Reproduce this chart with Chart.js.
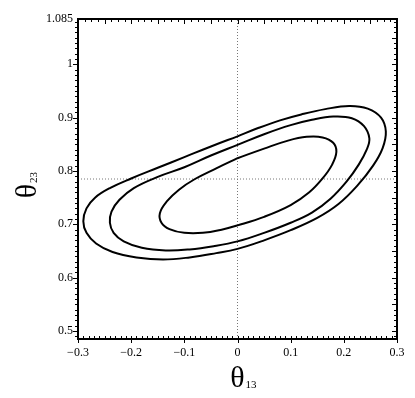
<!DOCTYPE html>
<html>
<head>
<meta charset="utf-8">
<script src="https://cdn.jsdelivr.net/npm/chart.js@4/dist/chart.umd.min.js"></script>
<style>
  body { margin: 0; background: #fff; }
  #wrap { width: 415px; height: 398px; }
</style>
</head>
<body>
<div id="wrap"><canvas id="c" width="415" height="398"></canvas></div>
<script>
// axis ranges and tick labels
const xRange = [-0.3, 0.3];
const yRange = [0.485, 1.085];
const xTickValues = [-0.3, -0.2, -0.1, 0, 0.1, 0.2, 0.3];
const xTickLabels = ['\u22120.3', '\u22120.2', '\u22120.1', '0', '0.1', '0.2', '0.3'];
const yTickValues = [0.5, 0.6, 0.7, 0.8, 0.9, 1, 1.085];
const yTickLabels = ['0.5', '0.6', '0.7', '0.8', '0.9', '1', '1.085'];

// reference point (dotted cross)
const refX = 0;
const refY = 0.785;

// contours as [theta13, theta23]
const contourOuter = [
  [0.000, 0.865], [-0.050, 0.846], [-0.100, 0.826], [-0.150, 0.806], [-0.200, 0.786],
  [-0.240, 0.768], [-0.268, 0.750], [-0.284, 0.730], [-0.290, 0.706], [-0.284, 0.684],
  [-0.266, 0.664], [-0.235, 0.648], [-0.190, 0.638], [-0.140, 0.634], [-0.090, 0.638],
  [-0.040, 0.646], [0.000, 0.654], [0.050, 0.670], [0.100, 0.689], [0.150, 0.712],
  [0.190, 0.738], [0.225, 0.772], [0.255, 0.810], [0.273, 0.843], [0.279, 0.874],
  [0.270, 0.900], [0.245, 0.917], [0.210, 0.922], [0.165, 0.916], [0.120, 0.906],
  [0.080, 0.895], [0.040, 0.881], [0.000, 0.865]
];
const contourMiddle = [
  [0.000, 0.849], [-0.050, 0.829], [-0.100, 0.807], [-0.150, 0.789], [-0.195, 0.768],
  [-0.222, 0.746], [-0.237, 0.724], [-0.240, 0.703], [-0.233, 0.684], [-0.214, 0.668],
  [-0.180, 0.656], [-0.135, 0.651], [-0.090, 0.653], [-0.045, 0.659], [0.000, 0.668],
  [0.050, 0.684], [0.100, 0.703], [0.140, 0.722], [0.175, 0.748], [0.205, 0.780],
  [0.228, 0.812], [0.243, 0.840], [0.248, 0.861], [0.238, 0.884], [0.215, 0.899],
  [0.180, 0.902], [0.140, 0.896], [0.100, 0.886], [0.050, 0.869], [0.000, 0.849]
];
const contourInner = [
  [0.000, 0.824], [-0.040, 0.805], [-0.080, 0.785], [-0.110, 0.765], [-0.133, 0.743],
  [-0.146, 0.721], [-0.143, 0.703], [-0.128, 0.691], [-0.100, 0.684], [-0.065, 0.684],
  [-0.030, 0.690], [0.000, 0.698], [0.050, 0.714], [0.100, 0.736], [0.135, 0.760],
  [0.160, 0.786], [0.178, 0.812], [0.186, 0.836], [0.180, 0.853], [0.160, 0.863],
  [0.130, 0.864], [0.095, 0.857], [0.050, 0.842], [0.000, 0.824]
];

const FONT = '"Liberation Serif", "Times New Roman", serif';

const toPts = arr => arr.map(p => ({ x: p[0], y: p[1] }));

function contourSet(arr) {
  return {
    data: toPts(arr),
    showLine: true,
    borderColor: '#000',
    borderWidth: 2,
    pointRadius: 0,
    tension: 0.4,
    order: 1
  };
}

// frame, minor ticks and the two axis titles
const framePlugin = {
  id: 'frame',
  afterDraw(chart) {
    const { ctx, chartArea: a, scales } = chart;
    const xs = scales.x, ys = scales.y;
    ctx.save();
    ctx.strokeStyle = '#000';
    ctx.lineWidth = 1;
    ctx.beginPath();
    // bottom: minor inward, major outward
    for (let i = 0; i <= 60; i++) {
      const px = Math.round(xs.getPixelForValue(-0.3 + i * 0.01)) + 0.5;
      if (i % 10 === 0) { ctx.moveTo(px, a.bottom); ctx.lineTo(px, a.bottom + 4); }
      ctx.moveTo(px, a.bottom); ctx.lineTo(px, a.bottom - 3);
    }
    // top: inward
    for (let i = 0; i <= 48; i++) {
      const px = Math.round(xs.getPixelForValue(-0.3 + i * 0.0125)) + 0.5;
      ctx.moveTo(px, a.top); ctx.lineTo(px, a.top + (i % 4 === 0 ? 5 : 3));
    }
    // left: outward
    for (let i = 0; i <= 60; i++) {
      const v = 0.49 + i * 0.01;
      if (v > yRange[1]) break;
      const py = Math.round(ys.getPixelForValue(v)) + 0.5;
      const major = Math.abs(v * 10 - Math.round(v * 10)) < 1e-6;
      ctx.moveTo(a.left, py); ctx.lineTo(a.left - (major ? 5 : 3), py);
    }
    // right: inward
    for (let i = 0; i <= 60; i++) {
      const v = 0.49 + i * 0.01;
      if (v > yRange[1]) break;
      const py = Math.round(ys.getPixelForValue(v)) + 0.5;
      const major = Math.abs(v * 20 - Math.round(v * 20)) < 1e-6;
      ctx.moveTo(a.right, py); ctx.lineTo(a.right - (major ? 5 : 3), py);
    }
    ctx.stroke();

    ctx.lineWidth = 2;
    ctx.strokeRect(a.left, a.top, a.right - a.left, a.bottom - a.top);

    // x title
    ctx.fillStyle = '#000';
    ctx.textBaseline = 'alphabetic';
    ctx.textAlign = 'center';
    const cx = (a.left + a.right) / 2;
    ctx.font = '30px ' + FONT;
    ctx.fillText('\u03B8', cx, a.bottom + 48);
    ctx.textAlign = 'left';
    ctx.font = '11px ' + FONT;
    ctx.fillText('13', cx + 8, a.bottom + 49);

    // y title, rotated
    ctx.translate(a.left - 42, (a.top + a.bottom) / 2 + 12);
    ctx.rotate(-Math.PI / 2);
    ctx.textAlign = 'center';
    ctx.font = '30px ' + FONT;
    ctx.fillText('\u03B8', 0, 0);
    ctx.textAlign = 'left';
    ctx.font = '11px ' + FONT;
    ctx.fillText('23', 8, 1);
    ctx.restore();
  }
};

new Chart(document.getElementById('c'), {
  type: 'scatter',
  data: {
    datasets: [
      {
        data: [{ x: refX, y: yRange[0] }, { x: refX, y: yRange[1] }],
        showLine: true, borderColor: '#777', borderWidth: 1, borderDash: [1, 2],
        pointRadius: 0, order: 2
      },
      {
        data: [{ x: xRange[0], y: refY }, { x: xRange[1], y: refY }],
        showLine: true, borderColor: '#777', borderWidth: 1, borderDash: [1, 2],
        pointRadius: 0, order: 2
      },
      contourSet(contourOuter),
      contourSet(contourMiddle),
      contourSet(contourInner)
    ]
  },
  options: {
    responsive: false,
    animation: false,
    layout: { padding: { left: 0, right: 18, top: 19, bottom: 0 } },
    plugins: { legend: { display: false }, tooltip: { enabled: false } },
    scales: {
      x: {
        type: 'linear',
        min: xRange[0], max: xRange[1],
        afterBuildTicks: s => { s.ticks = xTickValues.map(v => ({ value: v })); },
        afterFit: s => { s.height = 59; },
        grid: { display: false, drawTicks: false },
        border: { display: false },
        ticks: {
          padding: 7,
          color: '#000',
          font: { family: FONT, size: 12 },
          maxRotation: 0,
          callback: (v, i) => xTickLabels[i]
        }
      },
      y: {
        type: 'linear',
        min: yRange[0], max: yRange[1],
        afterBuildTicks: s => { s.ticks = yTickValues.map(v => ({ value: v })); },
        afterFit: s => { s.width = 78; },
        grid: { display: false, drawTicks: false },
        border: { display: false },
        ticks: {
          padding: 5,
          color: '#000',
          font: { family: FONT, size: 12 },
          callback: (v, i) => yTickLabels[i]
        }
      }
    }
  },
  plugins: [framePlugin]
});
</script>
</body>
</html>
